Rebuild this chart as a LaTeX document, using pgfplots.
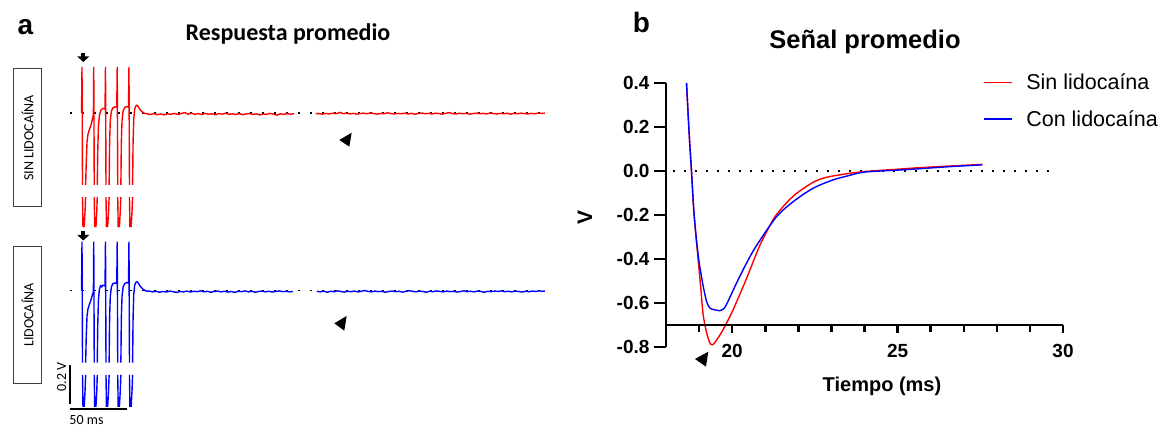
\documentclass[border=0pt]{standalone}
\usepackage{fontspec}
\setmainfont{Liberation Sans}
\newfontfamily\calibri{Carlito}
\usepackage{pgfplots}
\pgfplotsset{compat=1.18}
\newcommand\fs[1]{\fontsize{#1}{#1}\selectfont}

\pgfplotsset{
  trace/.style={hide axis, scale only axis, width=490.2pt, height=195pt,
    xmin=-20, xmax=410, ymin=-0.65, ymax=0.35, clip=false,
    unbounded coords=jump, anchor=south west},
  base/.style={black, line width=1.5pt, dash pattern=on 2pt off 10pt},
}

\begin{document}
\begin{tikzpicture}
\useasboundingbox (0,0) rectangle (1167pt,430pt);

% ---------- panel a, sin lidocaina ----------
\begin{axis}[trace, at={(59.2pt,190.25pt)}]
\addplot[base] coordinates {(-10.5,0)(406,0)};
\addplot[red, line width=1.4pt] coordinates {
(-0.4,0.0)(0,0.236)(0.45,-0.369)(0.5,nan)
(3.2,-0.369)(3.7,-0.26)(4.4,-0.15)(5.2,-0.11)(6.5,-0.085)(8,-0.06)(9.2,-0.03)(10.0,-0.01)
(10.3,0.236)(10.75,-0.369)(10.8,nan)
(13.4,-0.369)(13.8,-0.2)(14.4,-0.07)(15.3,-0.01)(16.6,0.015)(18.3,0.024)(20.2,0.02)
(20.6,0.236)(21.05,-0.369)(21.1,nan)
(23.8,-0.369)(24.2,-0.15)(24.8,-0.04)(25.8,0.01)(27.1,0.026)(29,0.032)(30.5,0.03)
(30.9,0.236)(31.35,-0.369)(31.4,nan)
(34.1,-0.369)(34.5,-0.15)(35.1,-0.04)(36.1,0.012)(37.4,0.028)(39.3,0.033)(40.8,0.03)
(41.2,0.236)(41.65,-0.369)(41.7,nan)
(44.4,-0.369)(44.8,-0.15)(45.4,-0.03)(46.2,0.02)(47.2,0.036)(48.2,0.04)(49.3,0.033)(50.8,0.018)(52.8,0.006)(54.8,-0.002)
(57,-0.004)(60,-0.008)(63,-0.003)(66,-0.009)(69,-0.005)(72,-0.010)(75,-0.004)(78,-0.007)(81,-0.002)(84,-0.008)
(87,-0.003)(90,0.002)(93,-0.006)(96,-0.001)(99,-0.007)(102,-0.003)(105,-0.008)(108,-0.002)(111,-0.006)(114,-0.004)
(117,-0.009)(120,-0.003)(123,-0.006)(126,-0.001)(129,-0.007)(132,-0.004)(135,-0.008)(138,-0.003)(141,-0.009)(144,-0.005)
(147,-0.002)(150,-0.008)(153,-0.004)(156,-0.010)(159,-0.005)(162,-0.007)(165,-0.002)(168,-0.006)(171,-0.011)(174,-0.004)
(177,-0.007)(180,-0.003)(183,-0.006)(186,-0.004)(190,nan)
(205,-0.004)(208,-0.003)(211,-0.006)(214,-0.002)(217,-0.005)(220,-0.001)(223,-0.004)(226,0.003)(229,-0.003)(232,-0.001)
(235,-0.005)(238,-0.002)(241,-0.006)(244,-0.003)(247,-0.001)(250,-0.004)(253,0.000)(256,-0.003)(259,-0.006)(262,-0.002)
(265,-0.004)(268,0.001)(271,-0.003)(274,-0.005)(277,-0.002)(280,-0.004)(283,-0.001)(286,-0.005)(289,-0.002)(292,-0.006)
(295,-0.003)(298,0.000)(301,-0.004)(304,-0.002)(307,-0.005)(310,-0.001)(313,-0.003)(316,-0.006)(319,-0.002)(322,0.002)
(325,-0.003)(328,-0.005)(331,-0.001)(334,-0.004)(337,-0.002)(340,-0.006)(343,-0.003)(346,-0.001)(349,-0.004)(352,-0.002)
(355,-0.005)(358,0.000)(361,-0.003)(364,-0.005)(367,-0.002)(370,-0.004)(373,-0.001)(376,-0.006)(379,-0.002)(382,-0.004)
(385,-0.001)(388,-0.003)(391,-0.005)(394,-0.002)(397,-0.004)(400,-0.001)(403,-0.002)(406,-0.001)
};
% part below the break
\addplot[red, line width=1.4pt] coordinates {
(0.45,-0.431)(0.85,-0.585)(1,nan)(1.9,-0.585)(2.7,-0.50)(3.2,-0.431)(3.3,nan)
(10.75,-0.431)(11.15,-0.585)(11.3,nan)(12.2,-0.585)(13,-0.50)(13.4,-0.431)(13.5,nan)
(21.05,-0.431)(21.45,-0.585)(21.6,nan)(22.5,-0.585)(23.3,-0.50)(23.8,-0.431)(23.9,nan)
(31.35,-0.431)(31.75,-0.585)(31.9,nan)(32.8,-0.585)(33.6,-0.50)(34.1,-0.431)(34.2,nan)
(41.65,-0.431)(42.05,-0.585)(42.2,nan)(43.1,-0.585)(43.9,-0.50)(44.4,-0.431)
};
\end{axis}

% ---------- panel a, lidocaina ----------
\begin{axis}[trace, at={(59.2pt,12.55pt)}]
\addplot[base] coordinates {(-10.5,0)(406,0)};
\addplot[blue, line width=1.4pt] coordinates {
(-0.4,0.0)(0,0.251)(0.45,-0.369)(0.5,nan)
(3.2,-0.369)(3.7,-0.24)(4.4,-0.13)(5.2,-0.095)(6.5,-0.07)(8,-0.045)(9.2,-0.02)(10.0,-0.005)
(10.3,0.251)(10.75,-0.369)(10.8,nan)
(13.4,-0.369)(13.8,-0.18)(14.4,-0.05)(15.2,0.005)(16.3,0.025)(17.3,0.02)(18.3,0.028)(20.2,0.024)
(20.6,0.251)(21.05,-0.369)(21.1,nan)
(23.8,-0.369)(24.2,-0.14)(24.8,-0.03)(25.8,0.02)(27.1,0.036)(29,0.04)(30.5,0.036)
(30.9,0.251)(31.35,-0.369)(31.4,nan)
(34.1,-0.369)(34.5,-0.14)(35.1,-0.03)(36.1,0.02)(37.4,0.036)(39.3,0.042)(40.8,0.038)
(41.2,0.251)(41.65,-0.369)(41.7,nan)
(44.4,-0.369)(44.8,-0.14)(45.4,-0.02)(46.2,0.028)(47.2,0.042)(48.3,0.046)(49.5,0.038)(51,0.024)(53,0.01)(55.5,0.0)(57.5,-0.003)
(59,-0.002)(62,-0.006)(65,-0.003)(68,-0.008)(71,-0.004)(74,-0.007)(77,-0.002)(80,-0.005)(83,-0.009)(86,-0.004)
(89,-0.006)(92,-0.002)(95,-0.007)(98,-0.003)(101,-0.005)(104,-0.001)(107,-0.006)(110,-0.003)(113,-0.008)(116,-0.004)
(119,-0.002)(122,-0.006)(125,-0.003)(128,-0.007)(131,-0.004)(134,-0.009)(137,-0.003)(140,-0.005)(143,-0.001)(146,-0.006)
(149,-0.003)(152,-0.008)(155,-0.004)(158,-0.002)(161,-0.006)(164,-0.003)(167,-0.007)(170,-0.004)(173,-0.001)(176,-0.005)
(179,-0.003)(182,-0.006)(185,-0.004)(190,nan)
(206,-0.003)(209,-0.006)(212,-0.002)(215,-0.008)(218,-0.003)(221,-0.005)(224,-0.001)(227,-0.004)(230,-0.007)(233,-0.003)
(236,-0.005)(239,-0.002)(242,-0.006)(245,-0.003)(248,0.001)(251,-0.004)(254,-0.006)(257,-0.002)(260,-0.005)(263,-0.003)
(266,-0.008)(269,-0.004)(272,-0.002)(275,-0.005)(278,-0.003)(281,-0.007)(284,-0.004)(287,0.000)(290,-0.003)(293,-0.006)
(296,-0.002)(299,-0.004)(302,-0.008)(305,-0.003)(308,-0.005)(311,-0.001)(314,-0.004)(317,-0.006)(320,-0.002)(323,-0.005)
(326,-0.003)(329,-0.007)(332,-0.004)(335,-0.001)(338,-0.005)(341,-0.003)(344,-0.006)(347,-0.002)(350,-0.004)(353,-0.008)
(356,-0.003)(359,-0.005)(362,-0.002)(365,-0.004)(368,-0.001)(371,-0.005)(374,-0.003)(377,-0.006)(380,-0.002)(383,-0.004)
(386,-0.007)(389,-0.003)(392,-0.005)(395,-0.002)(398,-0.004)(401,-0.001)(404,-0.003)(406,-0.002)
};
\addplot[blue, line width=1.4pt] coordinates {
(0.45,-0.432)(0.85,-0.596)(1,nan)(1.9,-0.596)(2.7,-0.51)(3.2,-0.432)(3.3,nan)
(10.75,-0.432)(11.15,-0.596)(11.3,nan)(12.2,-0.596)(13,-0.51)(13.4,-0.432)(13.5,nan)
(21.05,-0.432)(21.45,-0.596)(21.6,nan)(22.5,-0.596)(23.3,-0.51)(23.8,-0.432)(23.9,nan)
(31.35,-0.432)(31.75,-0.596)(31.9,nan)(32.8,-0.596)(33.6,-0.51)(34.1,-0.432)(34.2,nan)
(41.65,-0.432)(42.05,-0.596)(42.2,nan)(43.1,-0.596)(43.9,-0.51)(44.4,-0.432)
};
% scale bars: 0.2 V and 50 ms
\addplot[black, line width=2pt] coordinates {(-10.5,-0.381)(-10.5,-0.583)};
\addplot[black, line width=2pt] coordinates {(-10.5,-0.608)(39.2,-0.608)};
\end{axis}

% ---------- panel b ----------
\begin{axis}[scale only axis, at={(666pt,83pt)}, anchor=south west,
  width=397pt, height=264pt,
  xmin=18, xmax=30, ymin=-0.8, ymax=0.4,
  axis x line=none, axis y line*=left, xtick=\empty,
  ytick={-0.8,-0.6,-0.4,-0.2,0,0.2,0.4},
  yticklabels={-0.8,-0.6,-0.4,-0.2,0.0,0.2,0.4},
  tick align=outside, major tick length=12pt,
  tick style={black, line width=2.5pt},
  axis line style={line width=2.5pt},
  yticklabel style={font=\fs{19}\bfseries, xshift=-1pt},
  ylabel={V},
  ylabel style={at={(axis description cs:-0.204,0.492)}, anchor=center, font=\fs{21}\bfseries},
  legend style={at={(axis description cs:0.79,1.05)}, anchor=north west,
    draw=none, fill=none, font=\fs{21.5}, row sep=15pt,
    /tikz/every odd column/.style={column sep=12pt}},
  legend cell align=left,
  legend image code/.code={\draw[#1, line width=1.5pt] (0pt,0pt) -- (28pt,0pt);},
]
\addplot[black, line width=2pt, dash pattern=on 2pt off 9pt, forget plot]
  coordinates {(18.2,0)(29.8,0)};
\addplot[red, line width=1.4pt, smooth, tension=0.5] coordinates {
(18.62,0.40)(18.70,0.17)(18.77,0.0)(18.85,-0.2)(18.97,-0.40)(19.05,-0.53)(19.12,-0.65)
(19.22,-0.73)(19.32,-0.78)(19.40,-0.79)(19.50,-0.775)(19.73,-0.72)(20.03,-0.63)(20.43,-0.49)
(20.83,-0.34)(21.1,-0.26)(21.33,-0.20)(21.84,-0.115)(22.44,-0.052)(22.84,-0.029)(23.4,-0.014)
(23.84,-0.005)(24.4,0.002)(25,0.008)(25.65,0.015)(26.5,0.022)(27.56,0.030)
};
\addlegendentry{Sin lidocaína}
\addplot[blue, line width=1.4pt, smooth, tension=0.5] coordinates {
(18.62,0.40)(18.70,0.17)(18.77,0.0)(18.85,-0.2)(18.97,-0.38)(19.05,-0.46)(19.12,-0.52)
(19.22,-0.59)(19.32,-0.622)(19.45,-0.63)(19.62,-0.635)(19.75,-0.625)(19.85,-0.60)(20.13,-0.51)
(20.43,-0.42)(20.73,-0.34)(21.33,-0.21)(21.84,-0.14)(22.44,-0.079)(23.04,-0.041)(23.5,-0.022)
(23.94,-0.006)(24.5,0.0)(25,0.004)(25.65,0.010)(26.5,0.019)(27.56,0.028)
};
\addlegendentry{Con lidocaína}
\end{axis}

\begin{axis}[scale only axis, at={(666pt,105pt)}, anchor=south west,
  width=397pt, height=242pt,
  xmin=18, xmax=30, ymin=-0.7, ymax=0.4,
  axis y line=none, axis x line*=bottom, ytick=\empty,
  xtick={20,25,30}, xticklabels={20,25,30},
  minor xtick={19,21,22,23,24,26,27,28,29},
  tick align=outside, major tick length=8pt, minor tick length=7pt,
  tick style={black, line width=2.5pt},
  axis line style={line width=2.5pt},
  xticklabel style={font=\fs{19}\bfseries, yshift=-8pt},
  xlabel={Tiempo (ms)},
  xlabel style={at={(axis description cs:0.544,-0.252)}, anchor=center, font=\fs{20}\bfseries},
]
\end{axis}

% ---------- labels and markers ----------
\node[font=\fs{28}\bfseries] at (25.5pt,402.5pt) {a};
\node[font=\fs{28}\bfseries] at (641.5pt,407.5pt) {b};
\node[font=\calibri\fs{24}\bfseries, anchor=base] at (288pt,389.3pt) {Respuesta promedio};
\node[font=\fs{25.5}\bfseries, anchor=base] at (865pt,381pt) {Señal promedio};

\draw[black!75, line width=1pt] (13.3pt,223pt) rectangle (41.7pt,361pt);
\draw[black!75, line width=1pt] (13.3pt,46.7pt) rectangle (41.7pt,183.3pt);
\node[rotate=90, font=\calibri\fs{14}] at (27.5pt,292pt) {SIN LIDOCAÍNA};
\node[rotate=90, font=\calibri\fs{14}] at (27.5pt,115pt) {LIDOCAÍNA};
\node[rotate=90, font=\calibri\fs{14}] at (61.7pt,53.3pt) {0.2 V};
\node[font=\calibri\fs{14}] at (86.5pt,10pt) {50 ms};

\fill[black] (339.3pt,290pt) -- (351.7pt,297.3pt) -- (349.3pt,283.3pt) -- cycle;
\fill[black] (334.3pt,106.7pt) -- (346.7pt,114pt) -- (344.3pt,99.3pt) -- cycle;
\fill[black] (695pt,71pt) -- (708.3pt,78.3pt) -- (706pt,63.3pt) -- cycle;

\foreach \cy in {373,194.5} {
  \fill[black] (81.3pt,\cy pt+4pt) rectangle (85.3pt,\cy pt);
  \fill[black] (77.3pt,\cy pt+0.5pt) -- (89.3pt,\cy pt+0.5pt) -- (83.3pt,\cy pt-5pt) -- cycle;
}
\end{tikzpicture}
\end{document}
